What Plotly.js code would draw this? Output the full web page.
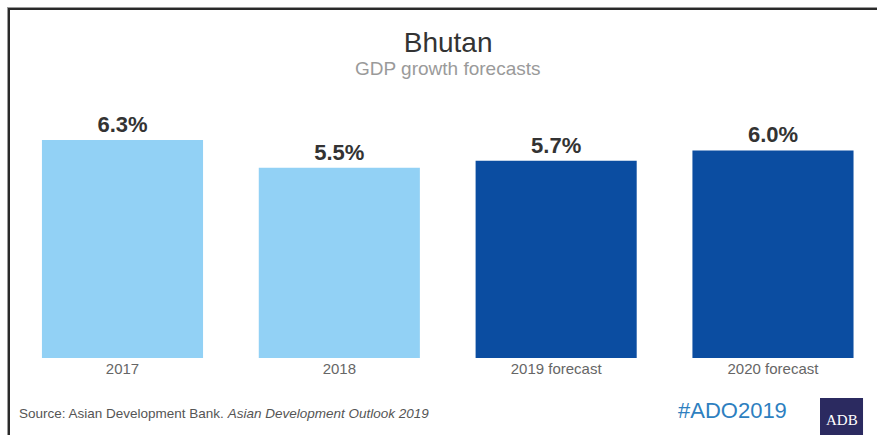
<!DOCTYPE html>
<html>
<head>
<meta charset="utf-8">
<script src="https://cdn.plot.ly/plotly-3.0.1.min.js"></script>
<style>
  html, body { margin: 0; padding: 0; background: #ffffff; }
  #wrap { position: relative; width: 877px; height: 435px; overflow: hidden; background: #fff; }
  #frame { position: absolute; left: 8px; top: 8px; width: 900px; height: 500px;
           border-top: 2px solid #2a2a2a; border-left: 2px solid #2a2a2a; box-shadow: -1px -1px 0 #9a9a9a; pointer-events: none; }
  #chart { position: absolute; left: 0; top: 0; width: 877px; height: 435px; }
</style>
</head>
<body>
<div id="wrap">
  <div id="chart"></div>
  <div id="frame"></div>
</div>
<script>
const categories = ["2017", "2018", "2019 forecast", "2020 forecast"];
const growth = [6.3, 5.5, 5.7, 6.0];
const barColors = ["#92d1f5", "#92d1f5", "#0b4da1", "#0b4da1"];

const chartTitle = "Bhutan";
const chartSubtitle = "GDP growth forecasts";
const sourceText = "Source: Asian Development Bank. <i>Asian Development Outlook 2019</i>";
const hashtag = "#ADO2019";
const logoText = "ADB";

const FONT = "Liberation Sans, Arial, Helvetica, sans-serif";

const trace = {
  type: "bar",
  x: categories,
  y: growth,
  marker: { color: barColors, line: { width: 0 } },
  texttemplate: "%{y:.1f}%",
  textposition: "outside",
  cliponaxis: false,
  textfont: { family: FONT, size: 22, color: "#333333", weight: "bold" },
  hoverinfo: "skip",
  width: 0.743
};

const layout = {
  width: 877,
  height: 435,
  margin: { l: 20, r: 20, t: 100, b: 77 },
  paper_bgcolor: "rgba(0,0,0,0)",
  plot_bgcolor: "rgba(0,0,0,0)",
  showlegend: false,
  title: {
    text: chartTitle,
    font: { family: FONT, size: 28, color: "#333333" },
    x: 0.511, xanchor: "center",
    y: 1 - 42 / 435, yanchor: "middle",
    xref: "container", yref: "container"
  },
  xaxis: {
    type: "category",
    range: [-0.4727, 3.3875],
    showgrid: false, zeroline: false, showline: false, ticks: "",
    tickfont: { family: FONT, size: 15, color: "#666666" },
    fixedrange: true
  },
  yaxis: {
    range: [0, 7.457],
    visible: false,
    fixedrange: true
  },
  annotations: [
    { text: chartSubtitle, xref: "paper", yref: "paper", x: 0.5113, y: 1.124,
      xanchor: "center", yanchor: "middle", showarrow: false,
      font: { family: FONT, size: 19, color: "#9a9a9a" } },
    { text: sourceText, xref: "paper", yref: "paper", x: -0.0036, y: -0.217,
      xanchor: "left", yanchor: "middle", showarrow: false,
      font: { family: FONT, size: 13.5, color: "#555555" } },
    { text: hashtag, xref: "paper", yref: "paper", x: 0.8507, y: -0.2054,
      xanchor: "center", yanchor: "middle", showarrow: false,
      font: { family: FONT, size: 22, color: "#2e7fc0" } },
    { text: logoText, xref: "paper", yref: "paper", x: 0.9815, y: -0.240,
      xanchor: "center", yanchor: "middle", showarrow: false,
      font: { family: "Liberation Serif, Times New Roman, serif", size: 15, color: "#ffffff" } }
  ],
  shapes: [
    { type: "rect", xref: "paper", yref: "paper", x0: 0.9558, x1: 1.0072, y0: -0.155, y1: -0.32,
      fillcolor: "#2b2a60", line: { width: 0 }, layer: "above" }
  ]
};

Plotly.newPlot("chart", [trace], layout, { displayModeBar: false, staticPlot: true });
</script>
</body>
</html>
